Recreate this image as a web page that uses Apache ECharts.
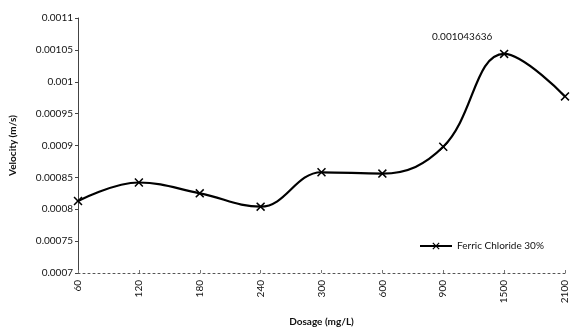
<!DOCTYPE html>
<html><head><meta charset="utf-8">
<script src="https://cdn.jsdelivr.net/npm/echarts@6/dist/echarts.min.js"></script>
<style>html,body{margin:0;padding:0;background:#fff}#c{width:571px;height:332px}</style>
</head><body><div id="c"></div>
<script>
var categories = ['60','120','180','240','300','600','900','1500','2100'];
var velocity = [0.000813, 0.000842, 0.000825, 0.000804, 0.000858, 0.000856, 0.000898, 0.001043636, 0.000977];
var seriesName = 'Ferric Chloride 30%';
var labelIndex = 7;

var xSym = 'path://M0,1.2 L1.2,0 L5,3.8 L8.8,0 L10,1.2 L6.2,5 L10,8.8 L8.8,10 L5,6.2 L1.2,10 L0,8.8 L3.8,5 Z';
var font = 'Lato, "Open Sans", sans-serif';
var chart = echarts.init(document.getElementById('c'));
chart.setOption({
  animation: false,
  backgroundColor: '#fff',
  grid: {left: 77, right: 6, top: 18, bottom: 58, containLabel: false},
  legend: {
    data: [seriesName], left: 414, top: 236, itemWidth: 32, itemHeight: 9, itemGap: 2,
    textStyle: {fontFamily: font, fontSize: 10, color: '#111'}
  },
  xAxis: {
    type: 'category', data: categories, boundaryGap: false,
    name: 'Dosage (mg/L)', nameLocation: 'middle', nameGap: 44,
    nameTextStyle: {fontFamily: font, fontSize: 10, fontWeight: 'bold', color: '#111'},
    axisLine: {lineStyle: {color: '#555', type: [2, 3], width: 1}},
    axisTick: {show: true, inside: true, length: 3, lineStyle: {color: '#777'}},
    axisLabel: {rotate: 90, fontFamily: font, fontSize: 10, color: '#111', margin: 7},
    splitLine: {show: false}
  },
  yAxis: {
    type: 'value', min: 0.0007, max: 0.0011, interval: 0.00005,
    name: 'Velocity (m/s)', nameLocation: 'middle', nameGap: 60, nameRotate: 90,
    nameTextStyle: {fontFamily: font, fontSize: 10, fontWeight: 'bold', color: '#111'},
    axisLine: {show: true, lineStyle: {color: '#444', width: 1}},
    axisTick: {show: true, length: 3, lineStyle: {color: '#444'}},
    axisLabel: {fontFamily: font, fontSize: 10, color: '#111', margin: 5,
      formatter: function (v) { return String(+v.toPrecision(6)); }},
    splitLine: {show: false}
  },
  series: [{
    name: seriesName, type: 'line', smooth: 0.4,
    data: velocity.map(function (v, i) {
      return i === labelIndex ? {value: v, label: {show: true, position: 'top', offset: [-42, -3],
        fontFamily: font, fontSize: 10, color: '#111', formatter: function (p) { return String(p.value); }}} : v;
    }),
    symbol: xSym, symbolSize: 9, showAllSymbol: true,
    itemStyle: {color: '#000'},
    lineStyle: {color: '#000', width: 2.2}
  }]
});
</script></body></html>
